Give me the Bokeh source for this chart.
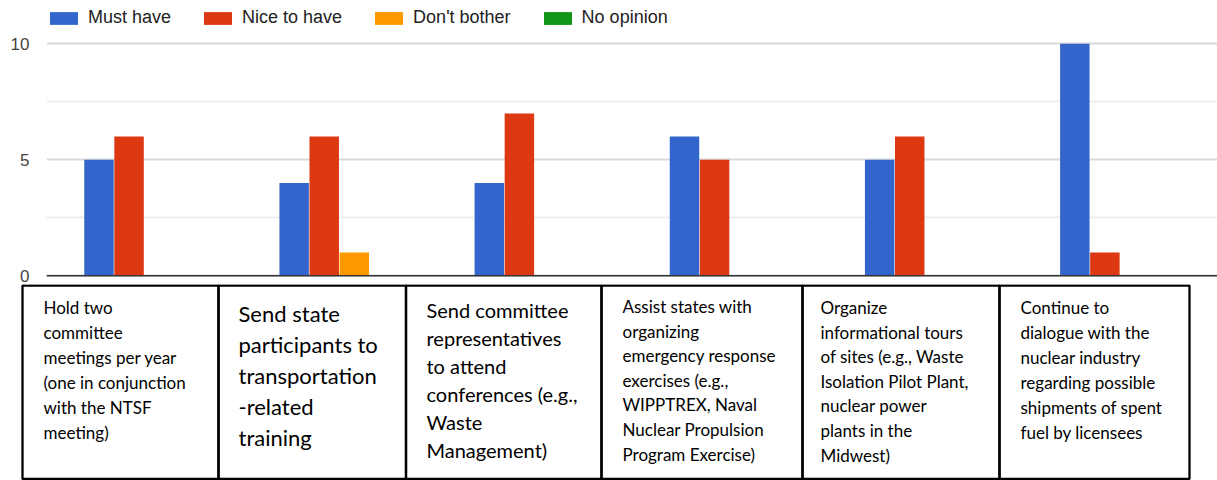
from bokeh.plotting import figure
from bokeh.models import ColumnDataSource, FactorRange, Range1d, FixedTicker, Span, Legend, LegendItem
from bokeh.transform import dodge
from bokeh.layouts import column
from bokeh.embed import file_html
from bokeh.resources import INLINE
from bokeh.core.properties import value

# ---------------- data ----------------
categories = [
    "Hold two\ncommittee\nmeetings per year\n(one in conjunction\nwith the NTSF\nmeeting)",
    "Send state\nparticipants to\ntransportation\n-related\ntraining",
    "Send committee\nrepresentatives\nto attend\nconferences (e.g.,\nWaste\nManagement)",
    "Assist states with\norganizing\nemergency response\nexercises (e.g.,\nWIPPTREX, Naval\nNuclear Propulsion\nProgram Exercise)",
    "Organize\ninformational tours\nof sites (e.g., Waste\nIsolation Pilot Plant,\nnuclear power\nplants in the\nMidwest)",
    "Continue to\ndialogue with the\nnuclear industry\nregarding possible\nshipments of spent\nfuel by licensees",
]
series = ["Must have", "Nice to have", "Don't bother", "No opinion"]
must_have = [5, 4, 4, 6, 5, 10]
nice_to_have = [6, 6, 7, 5, 6, 1]
dont_bother = [0, 1, 0, 0, 0, 0]
no_opinion = [0, 0, 0, 0, 0, 0]
y_ticks = [0, 5, 10]

# ---------------- style ----------------
colors = ["#3366cc", "#dc3912", "#ff9900", "#109618"]
bar_w = 0.151
bar_step = 0.154

src = ColumnDataSource(dict(cat=categories, s0=must_have, s1=nice_to_have,
                            s2=dont_bother, s3=no_opinion))

# chart: frame from page y 7 to 290, 23.2 px per unit, y=0 at page 275.3
p = figure(x_range=FactorRange(*categories, range_padding=0),
           y_range=Range1d(-0.634, 11.565),
           width=1217, height=290, output_backend="svg", toolbar_location=None,
           min_border_left=46, min_border_right=0, min_border_top=7, min_border_bottom=0,
           x_axis_location=None)
p.frame_align = False
p.outline_line_color = None
p.xgrid.visible = False
p.ygrid.ticker = FixedTicker(ticks=y_ticks, minor_ticks=[2.5, 7.5])
p.ygrid.grid_line_color = "#dadada"
p.ygrid.grid_line_width = 2
p.ygrid.minor_grid_line_color = "#ededed"
p.ygrid.minor_grid_line_width = 2

p.yaxis.ticker = FixedTicker(ticks=y_ticks)
p.yaxis.axis_line_color = None
p.yaxis.major_tick_line_color = None
p.yaxis.minor_tick_line_color = None
p.yaxis.major_tick_out = 0
p.yaxis.major_label_standoff = 17
p.yaxis.major_label_text_font = "Liberation Sans"
p.yaxis.major_label_text_font_size = "17px"
p.yaxis.major_label_text_color = "#444444"

renderers = []
for i, name in enumerate(series):
    r = p.vbar(x=dodge("cat", (i - 1.5) * bar_step, range=p.x_range), top="s%d" % i,
               bottom=0, width=bar_w, source=src, fill_color=colors[i], line_color=None)
    renderers.append(r)

p.add_layout(Span(location=0, dimension="width", line_color="#333333", line_width=1.6))

legend = Legend(items=[LegendItem(label=n, renderers=[r]) for n, r in zip(series, renderers)],
                orientation="horizontal", location="top_left", margin=0, padding=1,
                spacing=29, glyph_width=35, glyph_height=16, label_height=16,
                label_standoff=7, label_text_font="Liberation Sans",
                label_text_font_size="18px", label_text_color="#222222",
                border_line_color=None, background_fill_alpha=0)
p.add_layout(legend)

# ---------------- table below ----------------
col_edges = [22, 218, 405.5, 601, 802, 999, 1189]
tbl_top, tbl_bottom = 285, 478.5
text_x = [43, 238, 426, 622, 820, 1020]
first_y = [307, 313, 309, 306, 307, 307]
pitch = [25, 31, 28, 24.6, 24.6, 25]
font_px = [17, 22, 20, 17, 17, 17]

t = figure(x_range=Range1d(0, 1217), y_range=Range1d(480, 284),
           width=1217, height=196, min_border=0, output_backend="svg",
           toolbar_location=None, x_axis_location=None, y_axis_location=None)
t.frame_align = False
t.margin = (-6, 0, 0, 0)
t.grid.visible = False
t.outline_line_color = None
t.background_fill_alpha = 0
t.border_fill_alpha = 0

t.quad(left=col_edges[:-1], right=col_edges[1:], top=[tbl_top] * 6, bottom=[tbl_bottom] * 6,
       fill_color=None, line_color="black", line_width=2.3)

lx, ly, lt, lf = [], [], [], []
for i, cat in enumerate(categories):
    for j, line in enumerate(cat.split("\n")):
        lx.append(text_x[i])
        ly.append(first_y[i] + j * pitch[i])
        lt.append(line)
        lf.append("%dpx" % font_px[i])
t.text(x=lx, y=ly, text=lt, text_font_size=lf, text_font=value("Lato"),
       text_baseline="middle", text_align="left", text_color="black")

layout = column(p, t, spacing=0)
open("out.html", "w").write(file_html(layout, INLINE))
